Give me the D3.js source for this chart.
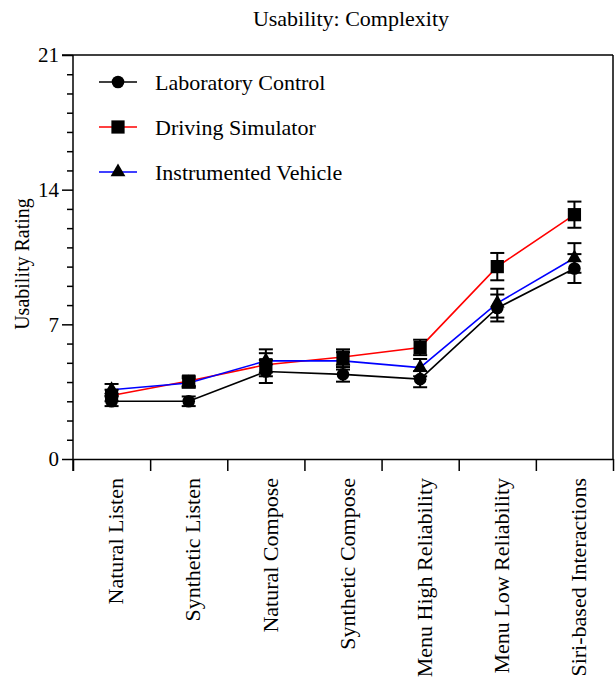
<!DOCTYPE html>
<html>
<head>
<meta charset="utf-8">
<script src="https://cdn.jsdelivr.net/npm/d3@7"></script>
<style>
  body { margin: 0; background: #fff; }
  svg { display: block; }
  text { font-family: "Liberation Serif", "Times New Roman", serif; fill: #000; }
</style>
</head>
<body>
<svg id="chart" width="616" height="682"></svg>
<script>
// Task categories along the x axis
const categories = [
  "Natural Listen", "Synthetic Listen", "Natural Compose", "Synthetic Compose",
  "Menu High Reliability", "Menu Low Reliability", "Siri-based Interactions"
];

// Mean complexity ratings per setting
const labControl   = [3.0, 3.0, 4.55, 4.4, 4.15, 7.85, 9.9];
const drivingSim   = [3.3, 4.05, 4.9, 5.3, 5.8, 10.0, 12.7];
const instrVehicle = [3.6, 3.95, 5.1, 5.1, 4.75, 8.1, 10.45];

// Standard errors per setting
const labErr   = [0.25, 0.25, 0.6, 0.38, 0.42, 0.7, 0.75];
const drivErr  = [0.3, 0.25, 0.6, 0.4, 0.4, 0.71, 0.68];
const instrErr = [0.3, 0.25, 0.6, 0.45, 0.45, 0.75, 0.77];

const yTicks = [0, 7, 14, 21];
const seriesNames = ["Laboratory Control", "Driving Simulator", "Instrumented Vehicle"];

const series = [
  { name: seriesNames[0], values: labControl,   errs: labErr,   color: "#000000", symbol: d3.symbolCircle },
  { name: seriesNames[1], values: drivingSim,   errs: drivErr,  color: "#ff0000", symbol: d3.symbolSquare },
  { name: seriesNames[2], values: instrVehicle, errs: instrErr, color: "#0000ff", symbol: d3.symbolTriangle }
];

const svg = d3.select("#chart");
const plotLeft = 73, plotRight = 613, plotTop = 55, plotBottom = 459;

const x = d3.scaleBand().domain(categories).range([plotLeft, plotRight]).padding(0);
const xEdge = d3.scaleLinear().domain([0, categories.length]).range([plotLeft, plotRight]);
const y = d3.scaleLinear().domain([0, 21]).range([plotBottom, plotTop]);

// Title
svg.append("text")
  .attr("x", 351).attr("y", 26)
  .attr("text-anchor", "middle")
  .style("font-size", "22px")
  .text("Usability: Complexity");

// Frame lines (top and right)
svg.append("line").attr("x1", 62).attr("x2", plotRight).attr("y1", plotTop).attr("y2", plotTop)
  .attr("stroke", "#000").attr("stroke-width", 1.5);
svg.append("line").attr("x1", plotRight).attr("x2", plotRight).attr("y1", plotTop).attr("y2", plotBottom)
  .attr("stroke", "#000").attr("stroke-width", 1.5);

// Minor y ticks
const minorVals = d3.range(0, 22).filter(v => v % 7 !== 0);
svg.append("g")
  .attr("transform", `translate(${plotLeft},0)`)
  .call(d3.axisLeft(y).tickValues(minorVals).tickSize(6).tickFormat(""))
  .call(g => g.select(".domain").remove())
  .call(g => g.selectAll("line").attr("stroke-width", 1.5));

// Major y axis
svg.append("g")
  .attr("transform", `translate(${plotLeft},0)`)
  .call(d3.axisLeft(y).tickValues(yTicks).tickSize(11).tickPadding(3).tickSizeOuter(0))
  .call(g => g.select(".domain").attr("stroke-width", 1.5).attr("d", `M0,${plotTop}V${plotBottom + 12}`))
  .call(g => g.selectAll("line").attr("stroke-width", 1.5))
  .call(g => g.selectAll("text").style("font-size", "21px").style("font-family", "Liberation Serif, serif"));

// X axis with ticks at category boundaries
svg.append("g")
  .attr("transform", `translate(0,${plotBottom})`)
  .call(d3.axisBottom(xEdge).tickValues(d3.range(0, categories.length + 1)).tickSize(12).tickFormat("").tickSizeOuter(0))
  .call(g => g.select(".domain").attr("stroke-width", 1.5))
  .call(g => g.selectAll("line").attr("stroke-width", 1.5));

// Rotated category labels
svg.append("g").selectAll("text")
  .data(categories)
  .join("text")
  .attr("transform", d => `translate(${x(d) + x.bandwidth() / 2 + 4},478) rotate(-90)`)
  .attr("text-anchor", "end")
  .attr("dy", "0.35em")
  .style("font-size", "22px")
  .text(d => d);

// Y axis title
svg.append("text")
  .attr("transform", "translate(29,264) rotate(-90)")
  .attr("text-anchor", "middle")
  .style("font-size", "20px")
  .text("Usability Rating");

const cx = d => x(d) + x.bandwidth() / 2;
const line = d3.line().x(d => cx(d.cat)).y(d => y(d.v));

// Series lines
series.forEach(s => {
  const pts = categories.map((c, i) => ({ cat: c, v: s.values[i] }));
  svg.append("path")
    .datum(pts)
    .attr("fill", "none")
    .attr("stroke", s.color)
    .attr("stroke-width", 1.6)
    .attr("d", line);
});

// Error bars
series.forEach(s => {
  const g = svg.append("g").attr("stroke", "#000").attr("stroke-width", 2);
  categories.forEach((c, i) => {
    const hi = y(s.values[i] + s.errs[i]), lo = y(s.values[i] - s.errs[i]);
    const xc = cx(c);
    g.append("line").attr("x1", xc).attr("x2", xc).attr("y1", hi).attr("y2", lo);
    g.append("line").attr("x1", xc - 7).attr("x2", xc + 7).attr("y1", hi).attr("y2", hi);
    g.append("line").attr("x1", xc - 7).attr("x2", xc + 7).attr("y1", lo).attr("y2", lo);
  });
});

// Markers
const symSize = { [seriesNames[0]]: 125, [seriesNames[1]]: 175, [seriesNames[2]]: 95 };
series.forEach(s => {
  svg.append("g").selectAll("path")
    .data(categories.map((c, i) => ({ cat: c, v: s.values[i] })))
    .join("path")
    .attr("transform", d => `translate(${cx(d.cat)},${y(d.v)})`)
    .attr("d", d3.symbol().type(s.symbol).size(symSize[s.name]))
    .attr("fill", "#000");
});

// Legend
const legend = svg.append("g");
series.forEach((s, i) => {
  const ly = 82 + i * 45;
  legend.append("line").attr("x1", 99).attr("x2", 137).attr("y1", ly).attr("y2", ly)
    .attr("stroke", s.color).attr("stroke-width", 1.6);
  legend.append("path")
    .attr("transform", `translate(118,${ly})`)
    .attr("d", d3.symbol().type(s.symbol).size(symSize[s.name]))
    .attr("fill", "#000");
  legend.append("text")
    .attr("x", 155).attr("y", ly).attr("dy", "0.35em")
    .style("font-size", "22px")
    .text(s.name);
});
</script>
</body>
</html>
